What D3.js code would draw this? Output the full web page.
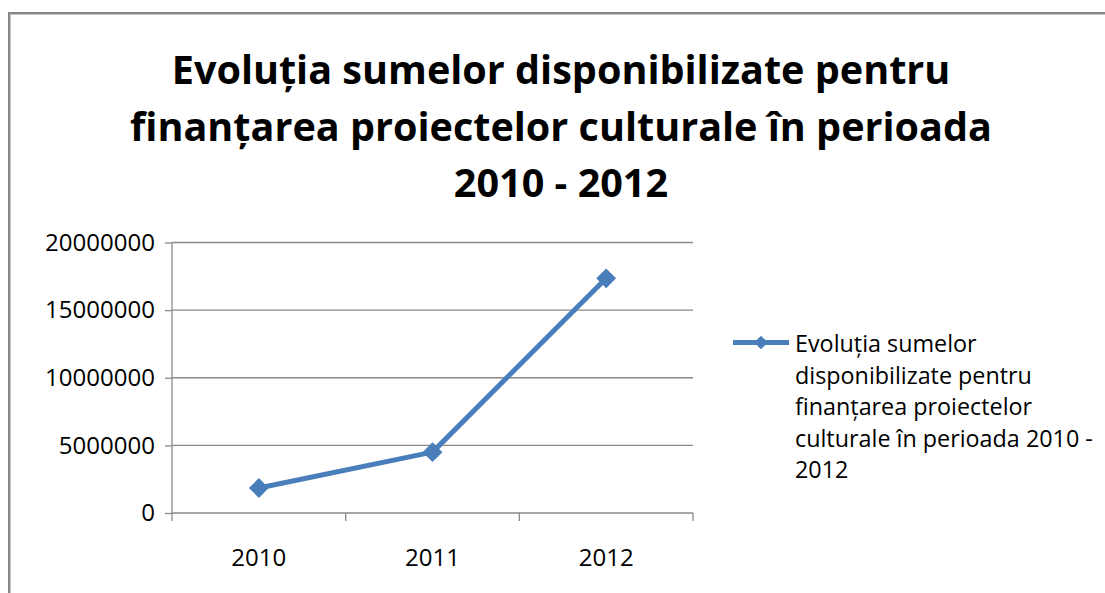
<!DOCTYPE html>
<html><head><meta charset="utf-8">
<script src="https://cdn.jsdelivr.net/npm/d3@7"></script>
<style>body{margin:0;background:#fff}svg{display:block}</style>
</head><body>
<svg id="c" width="1105" height="593"></svg>
<script>
const titleLines = ["Evoluția sumelor disponibilizate pentru", "finanțarea proiectelor culturale în perioada", "2010 - 2012"];
const categories = ["2010", "2011", "2012"];
const values = [1850000, 4500000, 17350000];
const yTicks = [0, 5000000, 10000000, 15000000, 20000000];
const legendLines = ["Evoluția sumelor", "disponibilizate pentru", "finanțarea proiectelor", "culturale în perioada 2010 -", "2012"];

const svg = d3.select("#c");
const W = 1105, H = 593;
const blue = "#4a7ebb", grid = "#8a8a8a";
const FONT = "'Open Sans', 'Liberation Sans', sans-serif";

// chart frame
svg.append("rect").attr("x", 9).attr("y", 13).attr("width", W).attr("height", H)
  .attr("fill", "none").attr("stroke", "#878787").attr("stroke-width", 2);
svg.append("rect").attr("x", 10.5).attr("y", 14.5).attr("width", W).attr("height", H)
  .attr("fill", "none").attr("stroke", "#c8c8c8").attr("stroke-width", 1);

const m = {left: 172, right: 693, top: 242.5, bottom: 513};
const x = d3.scaleBand().domain(categories).range([m.left, m.right]);
const y = d3.scaleLinear().domain([0, 20000000]).range([m.bottom, m.top]);

// title
const tg = svg.append("g").attr("font-family", FONT).attr("font-weight", "bold").attr("fill", "#000").attr("text-anchor", "middle");
const tBase = [84, 141, 197];
const tText = tg.selectAll("text").data(titleLines).join("text")
  .attr("x", 561).attr("y", (d, i) => tBase[i]).attr("font-size", 34).text(d => d);
{
  const w = tText.nodes()[1].getComputedTextLength();
  const fs = 34 * 862 / w;
  tText.attr("font-size", fs);
}

// gridlines
svg.append("g").selectAll("line").data(yTicks.filter(d => d > 0)).join("line")
  .attr("x1", m.left).attr("x2", m.right).attr("y1", d => y(d)).attr("y2", d => y(d))
  .attr("stroke", grid).attr("stroke-width", 1.3);

// y axis
const yAxis = svg.append("g").attr("transform", `translate(${m.left},0)`)
  .call(d3.axisLeft(y).tickValues(yTicks).tickFormat(d3.format("d")).tickSize(7).tickPadding(10));
yAxis.select(".domain").attr("stroke", grid).attr("stroke-width", 1.3).attr("d", `M-0,${m.top}V${m.bottom}`);
yAxis.selectAll(".tick line").attr("stroke", grid).attr("stroke-width", 1.3);
yAxis.selectAll("text").attr("font-family", FONT).attr("font-size", 21).attr("fill", "#000");

// x axis
const xAxis = svg.append("g").attr("transform", `translate(0,${m.bottom})`)
  .call(d3.axisBottom(x).tickSize(0).tickPadding(36));
xAxis.select(".domain").attr("stroke", grid).attr("stroke-width", 1.3).attr("d", `M${m.left},0H${m.right}`);
xAxis.selectAll("text").attr("font-family", FONT).attr("font-size", 21).attr("fill", "#000");
const bounds = [m.left].concat(categories.map(c => x(c) + x.bandwidth()));
xAxis.selectAll(".bt").data(bounds).join("line").attr("class", "bt")
  .attr("x1", d => d).attr("x2", d => d).attr("y1", 0).attr("y2", 8)
  .attr("stroke", grid).attr("stroke-width", 1.3);

// fit tick label font
{
  const n = yAxis.selectAll("text").nodes().find(t => t.textContent === "20000000");
  const fs = 21 * 110 / n.getComputedTextLength();
  yAxis.selectAll("text").attr("font-size", fs);
  xAxis.selectAll("text").attr("font-size", fs);
}

// line
const cx = d => x(d) + x.bandwidth() / 2;
const pts = categories.map((c, i) => [cx(c), y(values[i])]);
svg.append("path").attr("d", d3.line()(pts)).attr("fill", "none")
  .attr("stroke", blue).attr("stroke-width", 5).attr("stroke-linejoin", "round");
const diamond = d3.symbol().type(d3.symbolDiamond2).size(250);
svg.append("g").selectAll("path").data(pts).join("path")
  .attr("transform", d => `translate(${d[0]},${d[1]})`).attr("d", diamond).attr("fill", blue);

// legend
const lg = svg.append("g");
lg.append("line").attr("x1", 733).attr("x2", 789).attr("y1", 342.5).attr("y2", 342.5)
  .attr("stroke", blue).attr("stroke-width", 5);
lg.append("path").attr("transform", "translate(761,342.5)").attr("d", d3.symbol().type(d3.symbolDiamond2).size(120)).attr("fill", blue);
const lt = lg.selectAll("text").data(legendLines).join("text")
  .attr("x", 795).attr("y", (d, i) => 352 + i * 31.5)
  .attr("font-family", FONT).attr("font-size", 21).attr("fill", "#000").text(d => d);
{
  const w = lt.nodes()[3].getComputedTextLength();
  lt.attr("font-size", 21 * 298 / w);
}
</script>
</body></html>
